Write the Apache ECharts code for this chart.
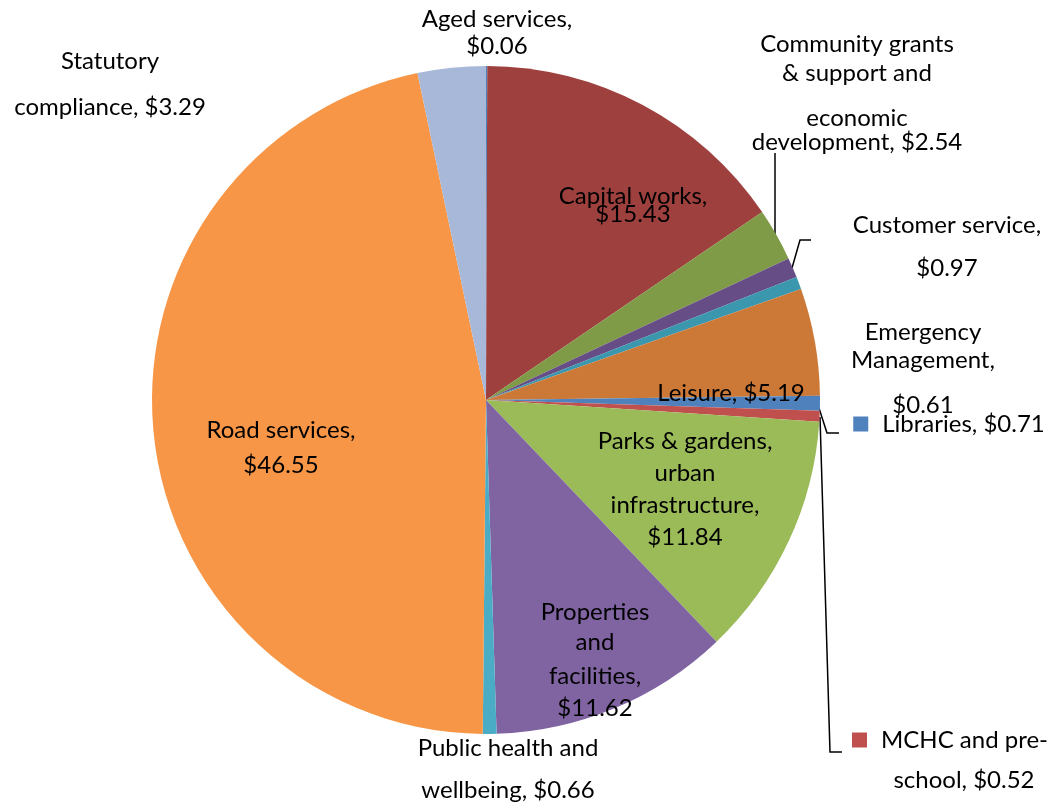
<!DOCTYPE html>
<html>
<head>
<meta charset="utf-8">
<script src="https://cdn.jsdelivr.net/npm/echarts@6/dist/echarts.min.js"></script>
<style>
  html, body { margin: 0; padding: 0; background: #ffffff; }
  #chart { width: 1052px; height: 805px; }
</style>
</head>
<body>
<div id="chart"></div>
<script>
// Spending by service area ($ per $100 of rates)
const categories = [
  'Aged services',
  'Capital works',
  'Community grants & support and economic development',
  'Customer service',
  'Emergency Management',
  'Leisure',
  'Libraries',
  'MCHC and pre-school',
  'Parks & gardens, urban infrastructure',
  'Properties and facilities',
  'Public health and wellbeing',
  'Road services',
  'Statutory compliance'
];
const values = [0.06, 15.43, 2.54, 0.97, 0.61, 5.19, 0.71, 0.52, 11.84, 11.62, 0.66, 46.55, 3.29];
const colors = [
  '#4f81bd', '#9e413e', '#7f9b48', '#664d85', '#3b97ae', '#cc7938', '#4f81bd',
  '#c0504d', '#9bbb59', '#8064a2', '#4bacc6', '#f79646', '#a8b8d8'
];

// Number of words on each line of every label
const lineBreaks = [
  [2, 1], [2, 1], [2, 3, 1, 2], [2, 1], [1, 1, 1], [2], [2],
  [3, 2], [3, 1, 1, 1], [1, 1, 1, 1], [3, 2], [2, 1], [1, 2]
];

// Label placement: centre x, centre y of the first line, spacing between lines,
// optional colour key and leader line
const labelPlacement = [
  { x: 497, y: 19, gaps: [27] },
  { x: 633, y: 196, gaps: [18] },
  { x: 857, y: 44, gaps: [29, 45, 24], line: [[775, 235], [775, 194], [775, 153]] },
  { x: 947, y: 225, gaps: [43], line: [[792, 268], [800, 240], [811, 240]] },
  { x: 923, y: 332, gaps: [28, 45] },
  { x: 731, y: 393, gaps: [] },
  { x: 949, y: 424, gaps: [], key: true, line: [[818, 405], [827, 433], [839, 433]] },
  { x: 950, y: 740, gaps: [40], key: true, indent: 28, line: [[820, 417], [830, 752], [842, 752]] },
  { x: 685, y: 441, gaps: [32, 32, 32] },
  { x: 595, y: 612, gaps: [30, 34, 32] },
  { x: 508, y: 748, gaps: [42] },
  { x: 281, y: 430, gaps: [35] },
  { x: 110, y: 61, gaps: [46] }
];

const FONT = 'Lato';
const FONT_SIZE = 24;
const FIRST_LINE = 24;

function labelLines(i) {
  const text = categories[i] + ', $' + values[i].toFixed(2);
  const words = text.match(/[^\s-]+-?/g);
  const lines = [];
  let k = 0;
  lineBreaks[i].forEach(function (n) {
    let s = '';
    for (let j = 0; j < n; j++) {
      const w = words[k++];
      s += (s && !s.endsWith('-') ? ' ' : '') + w;
    }
    lines.push(s);
  });
  return lines;
}

function richLabel(i) {
  const p = labelPlacement[i];
  const rich = {};
  const parts = labelLines(i).map(function (ln, j) {
    const name = 't' + j;
    let padLeft = 0;
    if (j === 0 && p.key) padLeft = 14;
    if (j > 0 && p.indent) padLeft = p.indent;
    rich[name] = {
      fontFamily: FONT,
      fontSize: FONT_SIZE,
      color: '#000000',
      align: 'center',
      verticalAlign: 'bottom',
      height: FIRST_LINE,
      lineHeight: j === 0 ? FIRST_LINE : p.gaps[j - 1],
      padding: [0, 0, 0, padLeft]
    };
    let s = '';
    if (j === 0 && p.key) {
      rich.key = {
        width: 15, height: 15, backgroundColor: colors[i],
        align: 'center', verticalAlign: 'middle', lineHeight: FIRST_LINE
      };
      s += '{key|}';
    }
    return s + '{' + name + '|' + ln + '}';
  });
  return {
    show: true,
    position: 'outside',
    formatter: parts.join('\n'),
    rich: rich
  };
}

const pieData = categories.map(function (name, i) {
  return {
    name: name,
    value: values[i],
    itemStyle: { color: colors[i] },
    label: richLabel(i),
    labelLine: { show: !!labelPlacement[i].line }
  };
});

const chart = echarts.init(document.getElementById('chart'), null, { renderer: 'canvas' });
chart.setOption({
  backgroundColor: '#ffffff',
  animation: false,
  series: [{
    type: 'pie',
    center: [486, 400],
    radius: 334,
    startAngle: 90,
    clockwise: true,
    avoidLabelOverlap: false,
    minAngle: 0,
    itemStyle: { borderWidth: 0 },
    emphasis: { disabled: true },
    label: { show: true, position: 'outside' },
    labelLine: {
      show: false,
      smooth: false,
      lineStyle: { color: '#000000', width: 1.5 }
    },
    labelLayout: function (params) {
      const p = labelPlacement[params.dataIndex];
      const out = {
        x: p.x,
        y: p.y - FIRST_LINE / 2,
        align: 'center',
        verticalAlign: 'top'
      };
      if (p.line) out.labelLinePoints = p.line;
      return out;
    },
    data: pieData
  }]
});
</script>
</body>
</html>
